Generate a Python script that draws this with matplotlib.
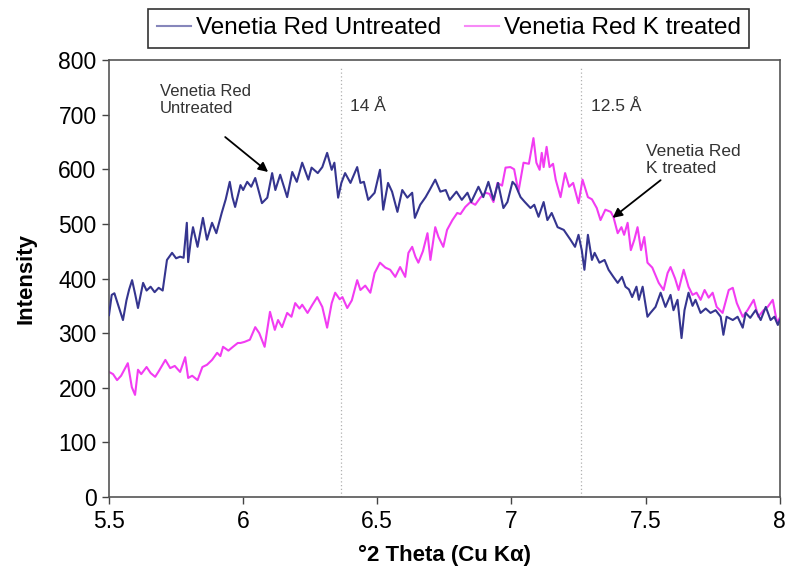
import matplotlib
matplotlib.use("Agg")
import matplotlib.pyplot as plt

plt.rcParams['font.family'] = ['Liberation Sans', 'DejaVu Sans']

# XRD scans, degrees 2-theta vs counts
untreated_x = [5.500, 5.510, 5.520, 5.535, 5.552, 5.565, 5.575, 5.586, 5.598, 5.608,
               5.618, 5.627, 5.640, 5.655, 5.670, 5.685, 5.700, 5.716, 5.735, 5.750,
               5.765, 5.778, 5.790, 5.795, 5.805, 5.813, 5.830, 5.850, 5.865, 5.884,
               5.900, 5.920, 5.935, 5.950, 5.960, 5.970, 5.990, 6.000, 6.015, 6.030,
               6.045, 6.070, 6.090, 6.108, 6.120, 6.138, 6.164, 6.183, 6.200, 6.220,
               6.243, 6.255, 6.278, 6.295, 6.313, 6.330, 6.340, 6.354, 6.366, 6.380,
               6.400, 6.425, 6.437, 6.450, 6.466, 6.490, 6.510, 6.522, 6.540, 6.555,
               6.575, 6.593, 6.612, 6.630, 6.640, 6.660, 6.680, 6.695, 6.716, 6.735,
               6.755, 6.770, 6.795, 6.815, 6.836, 6.850, 6.877, 6.895, 6.914, 6.933,
               6.950, 6.970, 6.985, 7.004, 7.015, 7.034, 7.050, 7.071, 7.085, 7.101,
               7.120, 7.134, 7.150, 7.172, 7.195, 7.220, 7.237, 7.250, 7.262, 7.272,
               7.285, 7.300, 7.310, 7.328, 7.347, 7.362, 7.380, 7.396, 7.412, 7.425,
               7.438, 7.450, 7.466, 7.475, 7.489, 7.507, 7.518, 7.537, 7.556, 7.574,
               7.593, 7.604, 7.619, 7.634, 7.645, 7.660, 7.675, 7.686, 7.705, 7.724,
               7.742, 7.761, 7.780, 7.790, 7.802, 7.825, 7.843, 7.862, 7.873, 7.890,
               7.910, 7.929, 7.948, 7.966, 7.980, 7.993, 8.000]
untreated_y = [333, 370, 373, 350, 324, 360, 380, 397, 370, 346,
               370, 392, 378, 385, 375, 383, 378, 434, 447, 437,
               440, 438, 502, 430, 470, 494, 458, 511, 471, 502,
               483, 520, 545, 577, 549, 531, 571, 562, 577, 568,
               584, 538, 548, 593, 562, 590, 549, 595, 577, 612,
               581, 603, 593, 604, 630, 599, 612, 548, 575, 593,
               575, 604, 575, 577, 544, 557, 599, 526, 575, 559,
               522, 562, 548, 557, 511, 535, 549, 562, 581, 559,
               562, 544, 559, 544, 557, 540, 568, 549, 577, 544,
               575, 529, 540, 577, 571, 549, 540, 529, 535, 513,
               540, 507, 520, 494, 489, 471, 458, 480, 452, 416,
               480, 434, 447, 429, 434, 416, 403, 392, 403, 385,
               380, 366, 385, 361, 385, 330, 337, 348, 374, 348,
               370, 342, 361, 291, 342, 374, 350, 361, 337, 345,
               337, 342, 330, 297, 330, 324, 330, 310, 337, 328,
               342, 324, 348, 324, 330, 315, 324]

k_treated_x = [5.500, 5.515, 5.530, 5.545, 5.570, 5.585, 5.597, 5.608, 5.620, 5.640,
               5.655, 5.672, 5.685, 5.710, 5.728, 5.745, 5.765, 5.784, 5.795, 5.810,
               5.830, 5.848, 5.865, 5.884, 5.903, 5.915, 5.925, 5.945, 5.962, 5.980,
               5.990, 6.005, 6.025, 6.045, 6.060, 6.080, 6.100, 6.118, 6.130, 6.145,
               6.164, 6.180, 6.194, 6.210, 6.220, 6.240, 6.258, 6.276, 6.295, 6.313,
               6.330, 6.343, 6.360, 6.370, 6.388, 6.405, 6.425, 6.437, 6.455, 6.474,
               6.490, 6.510, 6.530, 6.548, 6.567, 6.585, 6.604, 6.616, 6.630, 6.642,
               6.653, 6.670, 6.687, 6.698, 6.716, 6.728, 6.746, 6.760, 6.780, 6.798,
               6.810, 6.828, 6.847, 6.865, 6.884, 6.903, 6.918, 6.933, 6.948, 6.965,
               6.978, 6.996, 7.010, 7.026, 7.045, 7.065, 7.082, 7.093, 7.105, 7.113,
               7.120, 7.131, 7.142, 7.155, 7.165, 7.183, 7.200, 7.215, 7.230, 7.250,
               7.265, 7.285, 7.300, 7.318, 7.332, 7.350, 7.370, 7.380, 7.396, 7.410,
               7.420, 7.433, 7.445, 7.458, 7.470, 7.483, 7.495, 7.507, 7.525, 7.549,
               7.567, 7.582, 7.593, 7.610, 7.623, 7.642, 7.660, 7.675, 7.690, 7.705,
               7.720, 7.735, 7.750, 7.765, 7.787, 7.810, 7.825, 7.840, 7.862, 7.880,
               7.903, 7.920, 7.940, 7.955, 7.974, 7.990, 8.000]
k_treated_y = [229, 225, 214, 222, 245, 201, 187, 233, 225, 238,
               227, 220, 230, 251, 236, 240, 229, 256, 218, 222,
               214, 238, 242, 251, 264, 258, 275, 268, 275, 282,
               282, 284, 288, 311, 300, 275, 339, 306, 324, 311,
               337, 330, 355, 345, 352, 337, 352, 366, 348, 310,
               355, 374, 362, 366, 346, 360, 397, 379, 387, 374,
               410, 429, 420, 416, 403, 421, 403, 447, 458, 440,
               429, 450, 483, 434, 494, 476, 458, 489, 507, 520,
               518, 531, 540, 535, 548, 557, 555, 540, 575, 570,
               603, 604, 600, 559, 612, 610, 657, 612, 599, 630,
               604, 641, 604, 610, 581, 549, 593, 568, 575, 538,
               581, 549, 545, 529, 507, 526, 522, 513, 483, 494,
               480, 502, 452, 471, 494, 452, 476, 429, 420, 392,
               379, 410, 421, 400, 379, 416, 385, 370, 374, 361,
               379, 365, 374, 348, 337, 379, 383, 355, 330, 342,
               361, 330, 342, 348, 361, 319, 328]

# basal spacing reference positions
ref_x = [6.365, 7.26]
ref_labels = ['14 Å', '12.5 Å']

x_ticks = [5.5, 6, 6.5, 7, 7.5, 8]
x_tick_labels = ['5.5', '6', '6.5', '7', '7.5', '8']
y_ticks = [0, 100, 200, 300, 400, 500, 600, 700, 800]

fig = plt.figure(figsize=(7.9, 5.77), dpi=100)
ax = fig.add_axes([0.138, 0.1386, 0.849, 0.7574])

blue = '#35358f'
pink = '#f23cf2'

for xv in ref_x:
    ax.vlines(xv, 0, 785, colors='#b0b0b0', linestyles=(0, (1, 2)), linewidth=0.9, zorder=1)

l1, = ax.plot(untreated_x, untreated_y, color=blue, lw=1.5, zorder=3,
              label='Venetia Red Untreated')
l2, = ax.plot(k_treated_x, k_treated_y, color=pink, lw=1.5, zorder=2,
              label='Venetia Red K treated')

ax.set_xlim(5.5, 8)
ax.set_ylim(0, 800)
ax.set_xticks(x_ticks)
ax.set_xticklabels(x_tick_labels)
ax.set_yticks(y_ticks)
ax.tick_params(axis='both', labelsize=16.5, length=5, width=1, color='#444444',
               direction='out', pad=4)
for side in ['left', 'bottom', 'top', 'right']:
    ax.spines[side].set_color('#555555')
    ax.spines[side].set_linewidth(1.2)

ax.set_xlabel('°2 Theta (Cu Kα)', fontsize=16, fontweight='bold', labelpad=9)
ax.set_ylabel('Intensity', fontsize=16, fontweight='bold', labelpad=16)

for xv, lab in zip(ref_x, ref_labels):
    ax.text(xv + 0.035, 714, lab, fontsize=12.5, color='#333333', va='center', ha='left')

ax.annotate('Venetia Red\nUntreated', xy=(6.093, 595), xytext=(5.69, 727),
            textcoords='data', fontsize=12, color='#333333', ha='left', va='center',
            linespacing=1.2)
ax.annotate('', xy=(6.093, 595), xytext=(5.933, 659),
            arrowprops=dict(arrowstyle='-|>', color='black', lw=1.3,
                            mutation_scale=14, shrinkA=0, shrinkB=0))

ax.annotate('Venetia Red\nK treated', xy=(7.377, 511), xytext=(7.5, 617),
            textcoords='data', fontsize=12.5, color='#333333', ha='left', va='center',
            linespacing=1.2)
ax.annotate('', xy=(7.377, 511), xytext=(7.556, 580),
            arrowprops=dict(arrowstyle='-|>', color='black', lw=1.3,
                            mutation_scale=14, shrinkA=0, shrinkB=0))

leg = fig.legend(handles=[l1, l2], loc='center', bbox_to_anchor=(0.568, 0.951),
                 ncol=2, fontsize=17.5, frameon=True, fancybox=False,
                 edgecolor='black', handlelength=1.4, handletextpad=0.2,
                 columnspacing=1.0, borderpad=0.35, borderaxespad=0)
leg.get_frame().set_linewidth(1.2)
for h in leg.get_lines():
    h.set_linewidth(1.5)
    h.set_alpha(0.6)

fig.savefig('out.png', dpi=100)
